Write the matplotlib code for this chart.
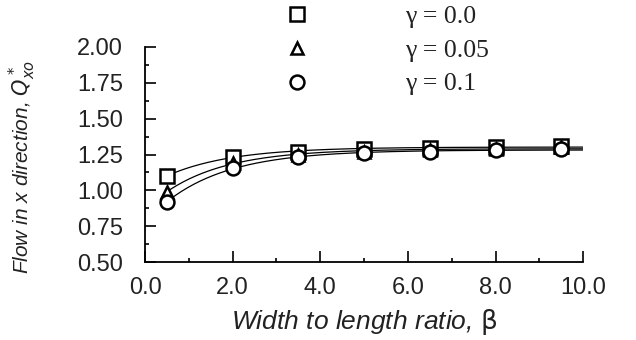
import numpy as np
import matplotlib
matplotlib.use("Agg")
import matplotlib.pyplot as plt
from matplotlib.ticker import MultipleLocator, FormatStrFormatter

# Width-to-length ratio values where the flow was evaluated
beta = [0.5, 2.0, 3.5, 5.0, 6.5, 8.0, 9.5]

# Dimensionless flow in x direction for each gamma
q_gamma_000 = [1.10, 1.235, 1.27, 1.29, 1.295, 1.30, 1.31]
q_gamma_005 = [0.99, 1.19, 1.25, 1.27, 1.28, 1.29, 1.30]
q_gamma_010 = [0.92, 1.155, 1.23, 1.26, 1.27, 1.28, 1.29]

series_labels = ["γ = 0.0", "γ = 0.05", "γ = 0.1"]
series_markers = ["s", "^", "o"]


def fit_saturation(x, y):
    """Least-squares fit of y = a - b*exp(-c*x); returns callable."""
    x = np.asarray(x, float)
    y = np.asarray(y, float)
    best = None
    for c in np.linspace(0.05, 3.0, 600):
        A = np.column_stack([np.ones_like(x), -np.exp(-c * x)])
        coef, *_ = np.linalg.lstsq(A, y, rcond=None)
        err = np.sum((A @ coef - y) ** 2)
        if best is None or err < best[0]:
            best = (err, coef[0], coef[1], c)
    _, a, b, c = best
    return lambda t: a - b * np.exp(-c * t)


plt.rcParams["font.family"] = ["Liberation Sans", "DejaVu Sans"]
text_color = "#222222"

fig = plt.figure(figsize=(6.36, 3.4), dpi=100)
ax = fig.add_axes([0.228, 0.229, 0.689, 0.633])

xs = np.linspace(beta[0], 10.0, 200)
for q, lab, m in zip([q_gamma_000, q_gamma_005, q_gamma_010],
                     series_labels, series_markers):
    f = fit_saturation(beta, q)
    ax.plot(xs, f(xs), color="black", lw=0.9, zorder=2)
    ax.plot(beta, q, linestyle="none", marker=m, markersize=10 if m != "^" else 9,
            markerfacecolor="white", markeredgecolor="black",
            markeredgewidth=1.8, label=lab, zorder=3)

ax.set_xlim(0, 10)
ax.set_ylim(0.5, 2.0)
ax.xaxis.set_major_locator(MultipleLocator(2))
ax.xaxis.set_minor_locator(MultipleLocator(1))
ax.yaxis.set_major_locator(MultipleLocator(0.25))
ax.yaxis.set_minor_locator(MultipleLocator(0.125))
ax.xaxis.set_major_formatter(FormatStrFormatter("%.1f"))
ax.yaxis.set_major_formatter(FormatStrFormatter("%.2f"))

for s in ["top", "right"]:
    ax.spines[s].set_visible(False)
for s in ["left", "bottom"]:
    ax.spines[s].set_linewidth(1.3)

ax.tick_params(which="major", direction="in", length=8, width=1.2,
               labelsize=17, color="black", labelcolor=text_color)
ax.tick_params(which="minor", direction="in", length=3, width=1.2)
ax.tick_params(axis="y", which="major", pad=16)
ax.tick_params(axis="x", which="major", pad=11)

ax.set_xlabel(r"Width to length ratio, $\mathrm{\beta}$", fontsize=19,
              fontstyle="italic", color=text_color)
ax.xaxis.set_label_coords(0.5, -0.28)
ax.xaxis.get_label().set_verticalalignment("center")
ax.set_ylabel(r"Flow in x direction, $Q^*_{xo}$", fontsize=15,
              fontstyle="italic", color=text_color)
ax.yaxis.get_label().set_math_fontfamily("dejavusans")
ax.yaxis.set_label_coords(-0.28, 0.44)
ax.yaxis.get_label().set_verticalalignment("center")

leg = ax.legend(loc="upper left", bbox_to_anchor=(0.317, 1.195),
                frameon=False, handlelength=1.0, handletextpad=3.7,
                labelspacing=0.42, borderpad=0, borderaxespad=0,
                prop={"family": "Liberation Serif", "size": 18.5})
for t in leg.get_texts():
    t.set_color(text_color)

fig.savefig("out.png", dpi=100)
